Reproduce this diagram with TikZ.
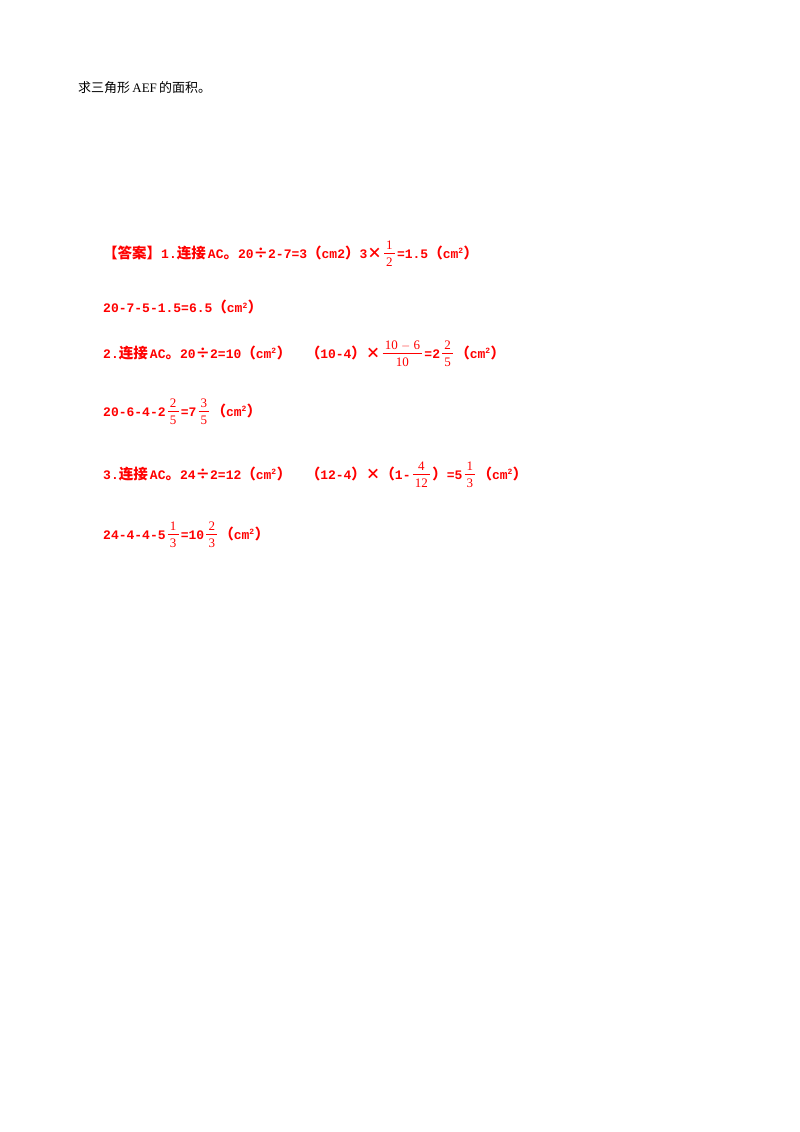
\documentclass[tikz,border=0pt]{standalone}
\usepackage{fontspec}
\setmainfont{Liberation Serif}
\setmonofont{Liberation Mono}
\newfontfamily\zhf{Noto Sans CJK SC}
\newcommand{\zh}{\zhf\fontsize{14.5}{16}\selectfont}
\newcommand{\fr}[2]{\,{\mdseries\rmfamily\fontsize{13}{14}\selectfont$\vcenter{\hbox{\begin{tabular}{@{\,}c@{\,}}#1\\[-1pt]\hline\rule{0pt}{13pt}#2\end{tabular}}}$}\,}
\newcommand{\sq}{\textsuperscript{\fontsize{8}{8}\selectfont 2}}
\begin{document}
\begin{tikzpicture}[x=1pt,y=-1pt]
\useasboundingbox (0,0) rectangle (800,1132);
\tikzset{ans/.style={anchor=west,text=red,font=\fontsize{13}{16}\selectfont\ttfamily\bfseries,inner sep=0pt},
q/.style={anchor=west,font=\fontsize{13}{15}\selectfont,inner sep=0pt}}
\node[q] (t0) at (78,88) {{\zhf 求三角形}\,AEF\,{\zhf 的面积。}};
\node[ans] (a1) at (103,255) {{\zh 【答案】}1.{\zh 连接}\,AC{\zh 。}20{\zh ÷}2-7=3{\zh （}cm2{\zh ）}3{\zh ×}\fr{1}{2}=1.5{\zh （}cm\sq{\zh ）}};
\node[ans] (a2) at (103,307) {20-7-5-1.5=6.5{\zh （}cm\sq{\zh ）}};
\node[ans] (a3) at (103,355) {2.{\zh 连接}\,AC{\zh 。}20{\zh ÷}2=10{\zh （}cm\sq{\zh ）\quad（}10-4{\zh ）×}\fr{10 $-$ 6}{10}=2\fr{2}{5}{\zh （}cm\sq{\zh ）}};
\node[ans] (a4) at (103,413) {20-6-4-2\fr{2}{5}=7\fr{3}{5}{\zh （}cm\sq{\zh ）}};
\node[ans] (a5) at (103,476) {3.{\zh 连接}\,AC{\zh 。}24{\zh ÷}2=12{\zh （}cm\sq{\zh ）\quad（}12-4{\zh ）×（}1-\fr{4}{12}{\zh ）}=5\fr{1}{3}{\zh （}cm\sq{\zh ）}};
\node[ans] (a6) at (103,536) {24-4-4-5\fr{1}{3}=10\fr{2}{3}{\zh （}cm\sq{\zh ）}};
\end{tikzpicture}
\end{document}
